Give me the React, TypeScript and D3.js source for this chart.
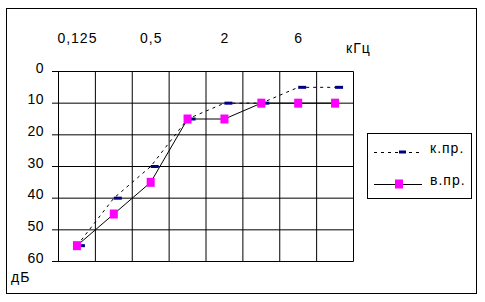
import React from "react";
import * as d3 from "d3";

const freqs = ["0,125", "0,25", "0,5", "1", "2", "4", "6", "8"];
const topLabels = ["0,125", "", "0,5", "", "2", "", "6", ""];
const boneValues = [55, 40, 30, 15, 10, 10, 5, 5];
const airValues = [55, 45, 35, 15, 15, 10, 10, 10];
const yTicks = [0, 10, 20, 30, 40, 50, 60];
const seriesNames = ["к.пр.", "в.пр."];

const FONT = "'Liberation Sans', Arial, sans-serif";

export default function App() {
  const x = d3.scaleBand<string>().domain(freqs).range([58.5, 353.5]).padding(0);
  const y = d3.scaleLinear().domain([0, 60]).range([71.5, 261.5]);
  const cx = (f: string) => (x(f) as number) + x.bandwidth() / 2;

  const line = d3
    .line<number>()
    .x((_, i) => cx(freqs[i]))
    .y((d) => y(d));

  const boundaries = freqs.map((f) => x(f) as number).concat([x.range()[1]]);

  return (
    <svg
      width={485}
      height={302}
      style={{ position: "absolute", left: 0, top: 0, background: "#fff" }}
      fontFamily={FONT}
    >
      <rect x={6.5} y={8.5} width={470} height={285} fill="#fff" stroke="#000" strokeWidth={1} />

      {/* grid */}
      {yTicks.map((t) => (
        <line key={"h" + t} x1={52} x2={353.5} y1={y(t)} y2={y(t)} stroke="#000" strokeWidth={1} />
      ))}
      {boundaries.map((b, i) => (
        <line key={"v" + i} x1={b} x2={b} y1={y(0)} y2={y(60)} stroke="#000" strokeWidth={1} />
      ))}

      {/* y labels */}
      {yTicks.map((t) => (
        <text key={"yl" + t} x={44} y={y(t) + 1} textAnchor="end" fontSize={14} fill="#000" letterSpacing={0.5}>
          {t}
        </text>
      ))}
      <text x={11} y={281.5} fontSize={14} fill="#000" letterSpacing={1}>дБ</text>

      {/* top labels */}
      {freqs.map((f, i) =>
        topLabels[i] ? (
          <text key={"tl" + f} x={cx(f) + 0.5} y={42.5} textAnchor="middle" fontSize={14} fill="#000" letterSpacing={1}>
            {topLabels[i]}
          </text>
        ) : null
      )}
      <text x={346} y={53} fontSize={14} fill="#000" letterSpacing={1}>кГц</text>

      {/* lines */}
      <path d={line(boneValues) || ""} fill="none" stroke="#000" strokeWidth={1} strokeDasharray="3,4" />
      <path d={line(airValues) || ""} fill="none" stroke="#000" strokeWidth={1} />

      {/* markers */}
      {boneValues.map((v, i) => (
        <rect key={"b" + i} x={cx(freqs[i])} y={y(v) - 1.5} width={8} height={3} fill="#000080" />
      ))}
      {airValues.map((v, i) => (
        <rect key={"a" + i} x={cx(freqs[i]) - 4} y={y(v) - 4.5} width={8} height={9} fill="#FF00FF" />
      ))}

      {/* legend */}
      <rect x={367.5} y={133.5} width={104} height={65} fill="#fff" stroke="#000" strokeWidth={1} />
      <line x1={374} x2={422} y1={152.5} y2={152.5} stroke="#000" strokeWidth={1} strokeDasharray="3,4" />
      <rect x={399} y={150.5} width={7} height={3} fill="#000080" />
      <text x={430} y={153} fontSize={14} fill="#000" letterSpacing={1}>{seriesNames[0]}</text>
      <line x1={374} x2={422} y1={184.5} y2={184.5} stroke="#000" strokeWidth={1} />
      <rect x={395} y={179.5} width={8} height={9} fill="#FF00FF" />
      <text x={430} y={185} fontSize={14} fill="#000" letterSpacing={1}>{seriesNames[1]}</text>
    </svg>
  );
}
